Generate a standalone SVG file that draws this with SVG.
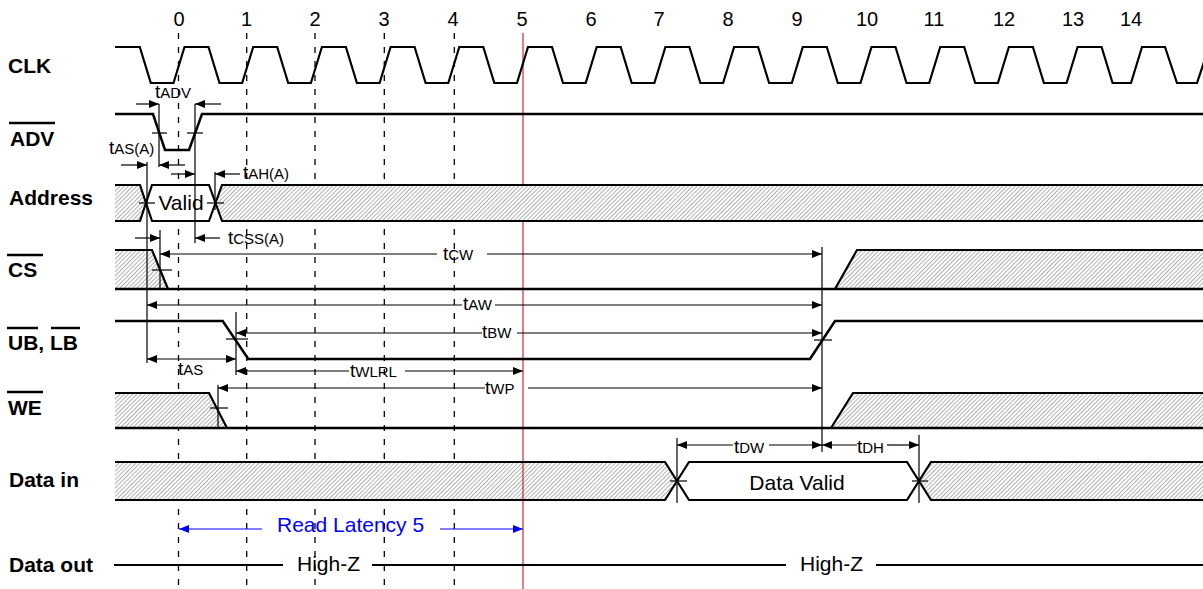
<svg xmlns="http://www.w3.org/2000/svg" width="1203" height="589" viewBox="0 0 1203 589">
<style>
.lbl{font-family:"Liberation Sans",Arial,sans-serif;font-weight:bold;font-size:21px;fill:#000}
.txt{font-family:"Liberation Sans",Arial,sans-serif;font-size:21px;fill:#000}
.num{font-family:"Liberation Sans",Arial,sans-serif;font-size:20px;fill:#000;text-anchor:middle}
.t{font-family:"Liberation Sans",Arial,sans-serif;font-size:19px;fill:#000}
.s{font-size:15px}
.sig{fill:none;stroke:#000;stroke-width:2.2;stroke-linejoin:miter}
.ovl{stroke:#000;stroke-width:2.5}
.dim{stroke:#000;stroke-width:1.2;fill:none}
.arr{marker-end:url(#ah)}
.grid{stroke:#000;stroke-width:1.3;stroke-dasharray:6 8}
.red{stroke:#c80000;stroke-width:1}
.hatch{fill:url(#hp);stroke:none}
.white{fill:#fff;stroke:none}
.blue{stroke:#0000ff;stroke-width:1.2;fill:none;marker-end:url(#ahb)}
</style>
<defs>
<pattern id="hp" width="3" height="3" patternUnits="userSpaceOnUse" patternTransform="rotate(45)">
<rect width="3" height="3" fill="#fff"/>
<line x1="0" y1="0" x2="0" y2="3" stroke="#707070" stroke-width="1.1"/>
</pattern>
<marker id="ah" viewBox="0 0 10 8" refX="10" refY="4" markerWidth="10" markerHeight="8" markerUnits="userSpaceOnUse" orient="auto">
<path d="M0,0 L10,4 L0,8 z" fill="#000"/>
</marker>
<marker id="ahb" viewBox="0 0 10 8" refX="10" refY="4" markerWidth="10" markerHeight="8" markerUnits="userSpaceOnUse" orient="auto">
<path d="M0,0 L10,4 L0,8 z" fill="#0000ff"/>
</marker>
</defs>
<rect width="1203" height="589" fill="#fff"/>

<g id="gridlines">
<line class="grid" x1="178.5" y1="33" x2="178.5" y2="589"/>
<line class="grid" x1="246.7" y1="33" x2="246.7" y2="589"/>
<line class="grid" x1="315" y1="33" x2="315" y2="589"/>
<line class="grid" x1="384.3" y1="33" x2="384.3" y2="589"/>
<line class="grid" x1="454.3" y1="33" x2="454.3" y2="589"/>
<line class="red" x1="523" y1="33" x2="523" y2="589"/>
</g>

<g id="cycle-numbers">
<text class="num" x="179" y="26">0</text>
<text class="num" x="246.5" y="26">1</text>
<text class="num" x="315" y="26">2</text>
<text class="num" x="384" y="26">3</text>
<text class="num" x="453" y="26">4</text>
<text class="num" x="522" y="26">5</text>
<text class="num" x="591" y="26">6</text>
<text class="num" x="659" y="26">7</text>
<text class="num" x="728" y="26">8</text>
<text class="num" x="797" y="26">9</text>
<text class="num" x="867" y="26">10</text>
<text class="num" x="934" y="26">11</text>
<text class="num" x="1004" y="26">12</text>
<text class="num" x="1073" y="26">13</text>
<text class="num" x="1131" y="26">14</text>
</g>

<g id="clk">
<text class="lbl" x="8" y="73">CLK</text>
<path class="sig" d="M115,47 L139.8,47 L150.8,83 L173.5,83 L184.5,47 L208.5,47 L219.5,83 L242.2,83 L253.2,47 L277.2,47 L288.2,83 L310.9,83 L321.9,47 L345.9,47 L356.9,83 L379.6,83 L390.6,47 L414.6,47 L425.6,83 L448.3,83 L459.3,47 L483.3,47 L494.3,83 L517,83 L528,47 L552,47 L563,83 L585.7,83 L596.7,47 L620.7,47 L631.7,83 L654.4,83 L665.4,47 L689.4,47 L700.4,83 L723.1,83 L734.1,47 L758.1,47 L769.1,83 L791.8,83 L802.8,47 L826.8,47 L837.8,83 L860.5,83 L871.5,47 L895.5,47 L906.5,83 L929.2,83 L940.2,47 L964.2,47 L975.2,83 L997.9,83 L1008.9,47 L1032.9,47 L1043.9,83 L1066.6,83 L1077.6,47 L1101.6,47 L1112.6,83 L1131,83 L1142,47 L1165,47 L1177,83 L1197,83 L1209,47"/>
</g>

<g id="adv">
<line class="ovl" x1="9" y1="123" x2="55" y2="123"/>
<text class="lbl" x="10" y="146">ADV</text>
<path class="sig" d="M115,114 L153,114 L165,150 L189,150 L202,114 L1203,114" style="stroke-width:2.5"/>
</g>

<g id="address">
<text class="lbl" x="9" y="205">Address</text>
<polygon class="hatch" points="115,185 140,185 146,203 140,221 115,221"/>
<polygon class="white" points="146,203 152,185 209,185 215.5,203 209,221 152,221"/>
<polygon class="hatch" points="215.5,203 222,185 1203,185 1203,221 222,221"/>
<path class="sig" d="M115,185 L140,185 L152,221 L209,221 L222,185 L1203,185"/>
<path class="sig" d="M115,221 L140,221 L152,185 L209,185 L222,221 L1203,221"/>
<text class="txt" x="181" y="210" text-anchor="middle">Valid</text>
</g>

<g id="cs">
<line class="ovl" x1="7" y1="255" x2="43" y2="255"/>
<text class="lbl" x="8" y="277">CS</text>
<polygon class="hatch" points="115,250 152,250 168,289 115,289"/>
<polygon class="hatch" points="835,289 857,250 1203,250 1203,289"/>
<path class="sig" d="M115,250 L152,250 L168,289"/>
<path class="sig" d="M835,289 L857,250 L1203,250"/>
<path class="sig" d="M115,289 L1203,289" style="stroke-width:2.5"/>
</g>

<g id="ublb">
<line class="ovl" x1="7" y1="328" x2="38" y2="328"/>
<line class="ovl" x1="51" y1="328" x2="80" y2="328"/>
<text class="lbl" x="8" y="350">UB, LB</text>
<path class="sig" d="M115,321 L222.7,321 L248.3,359 L810,359 L835,321 L1203,321" style="stroke-width:2.5"/>
</g>

<g id="we">
<line class="ovl" x1="7" y1="392" x2="43" y2="392"/>
<text class="lbl" x="8" y="415">WE</text>
<polygon class="hatch" points="115,393 209,393 227,428 115,428"/>
<polygon class="hatch" points="831,428 853,393 1203,393 1203,428"/>
<path class="sig" d="M115,393 L209,393 L227,428"/>
<path class="sig" d="M831,428 L853,393 L1203,393"/>
<path class="sig" d="M115,428 L1203,428" style="stroke-width:2.5"/>
</g>

<g id="datain">
<text class="lbl" x="9" y="487">Data in</text>
<polygon class="hatch" points="115,462 665,462 677,481 665,500 115,500"/>
<polygon class="white" points="677,481 689,462 907,462 919,481 907,500 689,500"/>
<polygon class="hatch" points="919,481 931,462 1203,462 1203,500 931,500"/>
<line class="red" x1="523" y1="462" x2="523" y2="500"/>
<path class="sig" d="M115,462 L665,462 L689,500 L907,500 L931,462 L1203,462"/>
<path class="sig" d="M115,500 L665,500 L689,462 L907,462 L931,500 L1203,500"/>
<text class="txt" x="797" y="490" text-anchor="middle">Data Valid</text>
</g>

<g id="dataout">
<text class="lbl" x="9" y="572">Data out</text>
<path class="sig" d="M114,565 L283,565 M372,565 L786,565 M876,565 L1203,565"/>
<text class="txt" x="297" y="571">High-Z</text>
<text class="txt" x="800" y="571">High-Z</text>
</g>

<g id="connectors">
<line class="dim" x1="152" y1="133" x2="167" y2="133"/>
<line class="dim" x1="187" y1="133" x2="203" y2="133"/>
<line class="dim" x1="139" y1="203" x2="155" y2="203"/>
<line class="dim" x1="207" y1="203" x2="224" y2="203"/>
<line class="dim" x1="152" y1="270" x2="172" y2="270"/>
<line class="dim" x1="226" y1="339" x2="248" y2="339"/>
<line class="dim" x1="814" y1="340" x2="832" y2="340"/>
<line class="dim" x1="210" y1="408" x2="228" y2="408"/>
<line class="dim" x1="670" y1="481" x2="687" y2="481"/>
<line class="dim" x1="912" y1="481" x2="928" y2="481"/>
<line class="dim" x1="159" y1="104" x2="159" y2="167"/>
<line class="dim" x1="195" y1="104" x2="195" y2="243"/>
<line class="dim" x1="147" y1="162" x2="147" y2="363"/>
<line class="dim" x1="215" y1="172" x2="215" y2="210"/>
<line class="dim" x1="160" y1="230" x2="160" y2="289"/>
<line class="dim" x1="236" y1="312" x2="236" y2="375"/>
<line class="dim" x1="218" y1="385" x2="218" y2="429"/>
<line class="dim" x1="822" y1="247" x2="822" y2="452"/>
<line class="dim" x1="677" y1="438" x2="677" y2="503"/>
<line class="dim" x1="919" y1="435" x2="919" y2="503"/>
<line class="dim arr" x1="136" y1="104" x2="159" y2="104"/>
<line class="dim arr" x1="221" y1="104" x2="195" y2="104"/>
<line class="dim arr" x1="121" y1="165" x2="147" y2="165"/>
<line class="dim arr" x1="185" y1="165" x2="159" y2="165"/>
<line class="dim arr" x1="171" y1="174" x2="195" y2="174"/>
<line class="dim arr" x1="240" y1="174" x2="215" y2="174"/>
<line class="dim arr" x1="135" y1="238" x2="160" y2="238"/>
<line class="dim arr" x1="220" y1="238" x2="195" y2="238"/>
<line class="dim arr" x1="437" y1="254" x2="160" y2="254"/>
<line class="dim arr" x1="487" y1="254" x2="822" y2="254"/>
<line class="dim arr" x1="462" y1="305" x2="147" y2="305"/>
<line class="dim arr" x1="495" y1="305" x2="822" y2="305"/>
<line class="dim arr" x1="482" y1="333" x2="236" y2="333"/>
<line class="dim arr" x1="517" y1="333" x2="822" y2="333"/>
<line class="dim arr" x1="190" y1="359" x2="147" y2="359"/>
<line class="dim arr" x1="190" y1="359" x2="236" y2="359"/>
<line class="dim arr" x1="349" y1="371" x2="236" y2="371"/>
<line class="dim arr" x1="405" y1="371" x2="523" y2="371"/>
<line class="dim arr" x1="485" y1="388" x2="218" y2="388"/>
<line class="dim arr" x1="528" y1="388" x2="822" y2="388"/>
<line class="dim arr" x1="733" y1="445" x2="677" y2="445"/>
<line class="dim arr" x1="769" y1="445" x2="822" y2="445"/>
<line class="dim arr" x1="857" y1="445" x2="822" y2="445"/>
<line class="dim arr" x1="887" y1="445" x2="919" y2="445"/>
<line class="blue" x1="262" y1="529" x2="179" y2="529"/>
<line class="blue" x1="440" y1="529" x2="523" y2="529"/>
</g>

<g id="timing-labels">
<text class="t" x="155" y="98">t<tspan class="s">ADV</tspan></text>
<text class="t" x="109" y="154">t<tspan class="s">AS(A)</tspan></text>
<text class="t" x="243" y="179">t<tspan class="s">AH(A)</tspan></text>
<text class="t" x="228" y="244">t<tspan class="s">CSS(A)</tspan></text>
<text class="t" x="443" y="260">t<tspan class="s">CW</tspan></text>
<text class="t" x="463" y="310">t<tspan class="s">AW</tspan></text>
<text class="t" x="482" y="338">t<tspan class="s">BW</tspan></text>
<text class="t" x="178" y="375">t<tspan class="s">AS</tspan></text>
<text class="t" x="350" y="377">t<tspan class="s">WLRL</tspan></text>
<text class="t" x="485" y="394">t<tspan class="s">WP</tspan></text>
<text class="t" x="734" y="453">t<tspan class="s">DW</tspan></text>
<text class="t" x="857" y="453">t<tspan class="s">DH</tspan></text>
<text class="txt" x="277" y="532" style="fill:#0000ff">Read Latency 5</text>
</g>
</svg>
